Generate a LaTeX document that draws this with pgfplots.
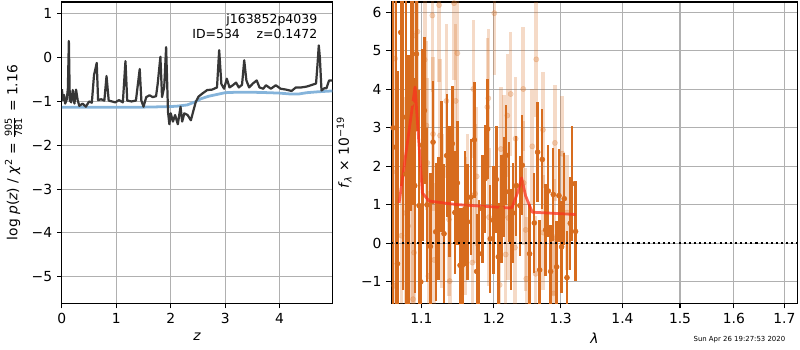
\documentclass[border=0pt]{standalone}
\usepackage{fontspec}
\setmainfont{DejaVu Sans}
\usepackage{amsmath}
\usepackage{pgfplots}
\usepackage{pgfplotstable}
\pgfplotsset{compat=1.18}
\definecolor{darkline}{RGB}{55,55,55}
\definecolor{bluel}{RGB}{120,172,215}
\definecolor{dorange}{RGB}{215,108,30}
\definecolor{gridc}{RGB}{176,176,176}
\definecolor{redm}{RGB}{250,50,30}

\pgfplotstableread{
x y e
1.0633 3.0 6.0
1.0667 2.5 5.0
1.0689 -0.53 5.0
1.0732 5.48 4.0
1.0762 3.28 4.5
1.0796 1.8 4.5
1.0831 1.40 3.5
1.0865 3.64 2.8
1.0891 7.0 6.0
1.0913 1.50 2.8
1.0935 4.92 2.0
1.0970 0.98 3.0
1.0992 -1.0 2.0
1.1014 2.55 2.5
1.1040 3.45 1.9
1.1075 1.0 2.0
1.1120 -0.08 1.9
1.1155 2.63 1.6
1.1191 0.30 1.8
1.1227 0.65 1.6
1.1267 1.99 1.7
1.1303 0.25 1.8
1.1339 2.28 1.6
1.1375 1.34 1.7
1.1416 2.59 1.5
1.1451 0.8 1.6
1.1485 1.57 1.6
1.1522 -0.57 1.5
1.1554 -0.57 1.5
1.1591 0.9 1.5
1.1628 0.56 1.5
1.1670 1.2 1.5
1.1721 2.69 1.5
1.1754 -0.73 1.5
1.1787 -0.27 1.4
1.1834 0.9 1.4
1.1872 1.68 1.4
1.1910 2.97 1.3
1.1948 0.12 1.4
1.1991 0.6 1.4
1.2034 1.66 1.4
1.2063 -0.35 1.4
1.2107 0.9 1.4
1.2150 1.47 1.3
1.2179 2.29 1.3
1.2218 1.34 1.3
1.2248 0.1 1.3
1.2277 0.79 1.3
1.2326 1.50 1.3
1.2380 0.98 1.3
1.2415 2.03 1.3
1.2524 -0.27 1.3
1.2595 0.53 1.3
1.2645 2.37 1.3
1.2676 -0.69 1.3
1.2716 2.18 1.3
1.2767 0.35 1.2
1.2808 1.36 1.2
1.2844 -0.73 1.2
1.2885 1.27 1.2
1.2937 -0.61 1.2
1.2973 1.24 1.2
1.3014 -0.09 1.2
1.3056 1.16 1.2
1.3098 -0.89 1.2
1.3150 0.52 1.2
1.3182 1.55 1.5
1.3234 0.31 1.3
}\darkdata

\pgfplotstableread{
x y e
1.0646 -1.1 3.0
1.0659 4.8 3.0
1.0740 0.2 3.0
1.0796 0.79 3.0
1.0827 0.45 3.0
1.0852 1.10 3.0
1.0891 -1.45 2.5
1.0904 -0.24 2.5
1.0917 5.40 2.5
1.0948 5.50 2.5
1.1044 4.77 2.2
1.1067 3.06 2.2
1.1080 2.09 2.2
1.1093 -0.85 2.2
1.1146 5.92 2.0
1.1155 2.84 2.0
1.1169 -0.43 2.0
1.1236 6.19 2.0
1.1249 2.80 2.0
1.1272 0.84 2.0
1.1335 3.70 2.0
1.1370 0.62 2.0
1.1380 -0.98 2.0
1.1439 6.24 2.0
1.1462 3.70 2.0
1.1485 4.94 2.0
1.1600 0.45 1.8
1.1623 1.03 1.8
1.1693 -0.50 1.8
1.1707 4.01 1.8
1.1731 1.29 1.8
1.1754 1.74 1.8
1.1905 3.54 1.8
1.1919 3.77 1.8
1.1929 0.68 1.8
1.2005 5.98 1.6
1.2082 -1.08 1.6
1.2100 2.45 1.6
1.2145 2.26 1.6
1.2170 -0.29 1.6
1.2194 3.32 1.6
1.2208 0.66 1.6
1.2243 3.88 1.6
1.2306 -0.11 1.6
1.2316 2.72 1.6
1.2430 4.01 1.6
1.2435 1.57 1.6
1.2465 0.35 1.6
1.2475 -0.92 1.6
1.2564 2.52 1.5
1.2615 -0.79 1.5
1.2625 4.78 1.5
1.2726 2.95 1.5
1.2731 0.28 1.5
1.2890 -1.30 1.5
1.2895 0.16 1.5
1.2910 2.61 1.5
1.3024 2.33 1.5
1.3100 0.80 1.5
}\lightdata

\pgfplotsset{
  mpl/.style={
    scale only axis,
    axis line style={line width=0.8pt},
    grid=major,
    major grid style={gridc, line width=0.8pt},
    tick align=outside,
    xtick pos=bottom, ytick pos=left,
    major tick length=3.5pt,
    every tick/.style={black, line width=0.8pt},
    tick label style={font=\fontsize{10}{12}\selectfont},
    label style={font=\fontsize{10}{12}\selectfont},
  }
}

\begin{document}
\begin{tikzpicture}
\path (0,0) rectangle (576pt,252pt);
\begin{axis}[mpl,
  at={(44.64pt,33.12pt)}, anchor=south west,
  width=195.12pt, height=217.44pt,
  xmin=0, xmax=4.97, ymin=-5.61, ymax=1.27,
  xtick={0,1,2,3,4}, xticklabels={0,1,2,3,4},
  ytick={-5,-4,-3,-2,-1,0,1}, yticklabels={−5,−4,−3,−2,−1,0,1},
  xlabel={\textit{z}},
  ylabel={log \textit{p}(\textit{z}) / \textit{χ}\textsuperscript{2} = $\frac{\text{905}}{\text{781}}$ = 1.16},
]
\addplot[bluel, line width=2pt, opacity=0.9] coordinates {
(0,-1.13) (0.5,-1.13) (1.0,-1.13) (1.5,-1.13) (1.9,-1.12) (2.1,-1.11) (2.3,-1.08)
(2.45,-1.01) (2.55,-0.94) (2.7,-0.88) (2.85,-0.84) (3.0,-0.80) (3.2,-0.79) (3.5,-0.79)
(3.8,-0.80) (4.0,-0.81) (4.2,-0.83) (4.35,-0.83) (4.5,-0.80) (4.7,-0.78) (4.97,-0.76)
};
\addplot[darkline, line width=1.6pt, line join=round] coordinates {
(0.00,-0.72) (0.02,-0.97) (0.04,-0.85) (0.06,-1.05) (0.09,-0.95) (0.11,-0.70)
(0.128,0.38) (0.145,-0.97) (0.17,-1.02) (0.20,-0.74) (0.23,-1.05) (0.26,-0.73)
(0.29,-0.97) (0.32,-1.10) (0.38,-1.05) (0.44,-1.12) (0.50,-1.00) (0.55,-1.03)
(0.59,-0.40) (0.61,-0.29) (0.64,-0.12) (0.665,-0.97) (0.72,-0.95) (0.78,-0.98)
(0.82,-0.42) (0.86,-0.98) (0.92,-1.0) (0.98,-1.02) (1.05,-0.97) (1.12,-1.02)
(1.168,-0.08) (1.20,-0.98) (1.28,-1.0) (1.36,-0.98) (1.43,-0.26) (1.46,-0.98)
(1.50,-1.12) (1.55,-0.90) (1.61,-0.86) (1.67,-0.90) (1.73,-0.88) (1.76,-0.60)
(1.81,0.02) (1.84,-0.90) (1.88,-0.67) (1.915,0.24) (1.95,-1.24) (1.975,-1.52)
(2.00,-1.27) (2.04,-1.46) (2.08,-1.31) (2.13,-1.52) (2.18,-1.12) (2.21,-1.46)
(2.25,-1.27) (2.31,-1.31) (2.37,-1.43) (2.41,-1.24) (2.46,-1.01) (2.51,-0.89)
(2.58,-0.82) (2.67,-0.74) (2.76,-0.73) (2.85,-0.68) (2.89,0.17) (2.93,-0.60)
(2.98,-0.71) (3.03,-0.48) (3.08,-0.68) (3.14,-0.63) (3.20,-0.57) (3.25,-0.68)
(3.31,-0.62) (3.35,-0.06) (3.39,-0.52) (3.44,-0.68) (3.51,-0.59) (3.58,-0.52)
(3.63,-0.68) (3.70,-0.71) (3.75,-0.63) (3.84,-0.71) (3.93,-0.63) (4.02,-0.71)
(4.12,-0.73) (4.22,-0.76) (4.30,-0.68) (4.40,-0.68) (4.50,-0.66) (4.60,-0.62)
(4.67,-0.59) (4.70,-0.10) (4.72,0.28) (4.74,0.0) (4.77,-0.75) (4.82,-0.70)
(4.86,-0.70) (4.91,-0.52) (4.97,-0.52)
};
\node[anchor=east, inner sep=0pt, font=\fontsize{9}{11}\selectfont] at (rel axis cs:0.945,0.940) {j163852p4039};
\node[anchor=east, inner sep=0pt, font=\fontsize{9}{11}\selectfont] at (rel axis cs:0.945,0.894) {ID=534\hspace{12pt}z=0.1472};
\end{axis}

\begin{axis}[mpl,
  at={(282.24pt,33.12pt)}, anchor=south west,
  width=293.04pt, height=217.44pt,
  xmode=log,
  xmin=1.061, xmax=1.727, ymin=-1.56, ymax=6.27,
  xtick={1.1,1.2,1.3,1.4,1.5,1.6,1.7}, xticklabels={1.1,1.2,1.3,1.4,1.5,1.6,1.7},
  minor xtick={},
  ytick={-1,0,1,2,3,4,5,6}, yticklabels={−1,0,1,2,3,4,5,6},
  xlabel={\textit{λ}},
  ylabel={\textit{f}$_{\text{\textit{λ}}}$ × 10\textsuperscript{−19}},
]
\addplot[only marks, mark=*, mark size=1.8pt, color=dorange,
  error bars/.cd, y dir=both, y explicit, error mark=none,
  error bar style={line width=1.7pt, dorange}]
  table[x=x, y=y, y error=e] {\darkdata};
\addplot[only marks, mark=*, mark size=1.9pt, color=dorange, opacity=0.25,
  error bars/.cd, y dir=both, y explicit, error mark=none,
  error bar style={line width=2.6pt, dorange, opacity=0.25}]
  table[x=x, y=y, y error=e] {\lightdata};
\addplot[black, line width=1.5pt, dash pattern=on 1.5pt off 2.2pt] coordinates {(1.061,0) (1.727,0)};
\addplot[redm, line width=2pt, opacity=0.75, line join=round] coordinates {
(1.071,1.05) (1.0917,4.06) (1.1013,1.31) (1.1102,1.10) (1.1463,1.01) (1.2218,0.92)
(1.2262,0.93) (1.2317,1.18) (1.2350,1.35) (1.2405,1.70) (1.2465,1.23) (1.2564,0.81) (1.3234,0.75)
};
\end{axis}
\node[anchor=east, inner sep=0pt, font=\fontsize{5}{6}\selectfont] at (566.6pt,7.2pt) {Sun Apr 26 19:27:53 2020};
\end{tikzpicture}
\end{document}
